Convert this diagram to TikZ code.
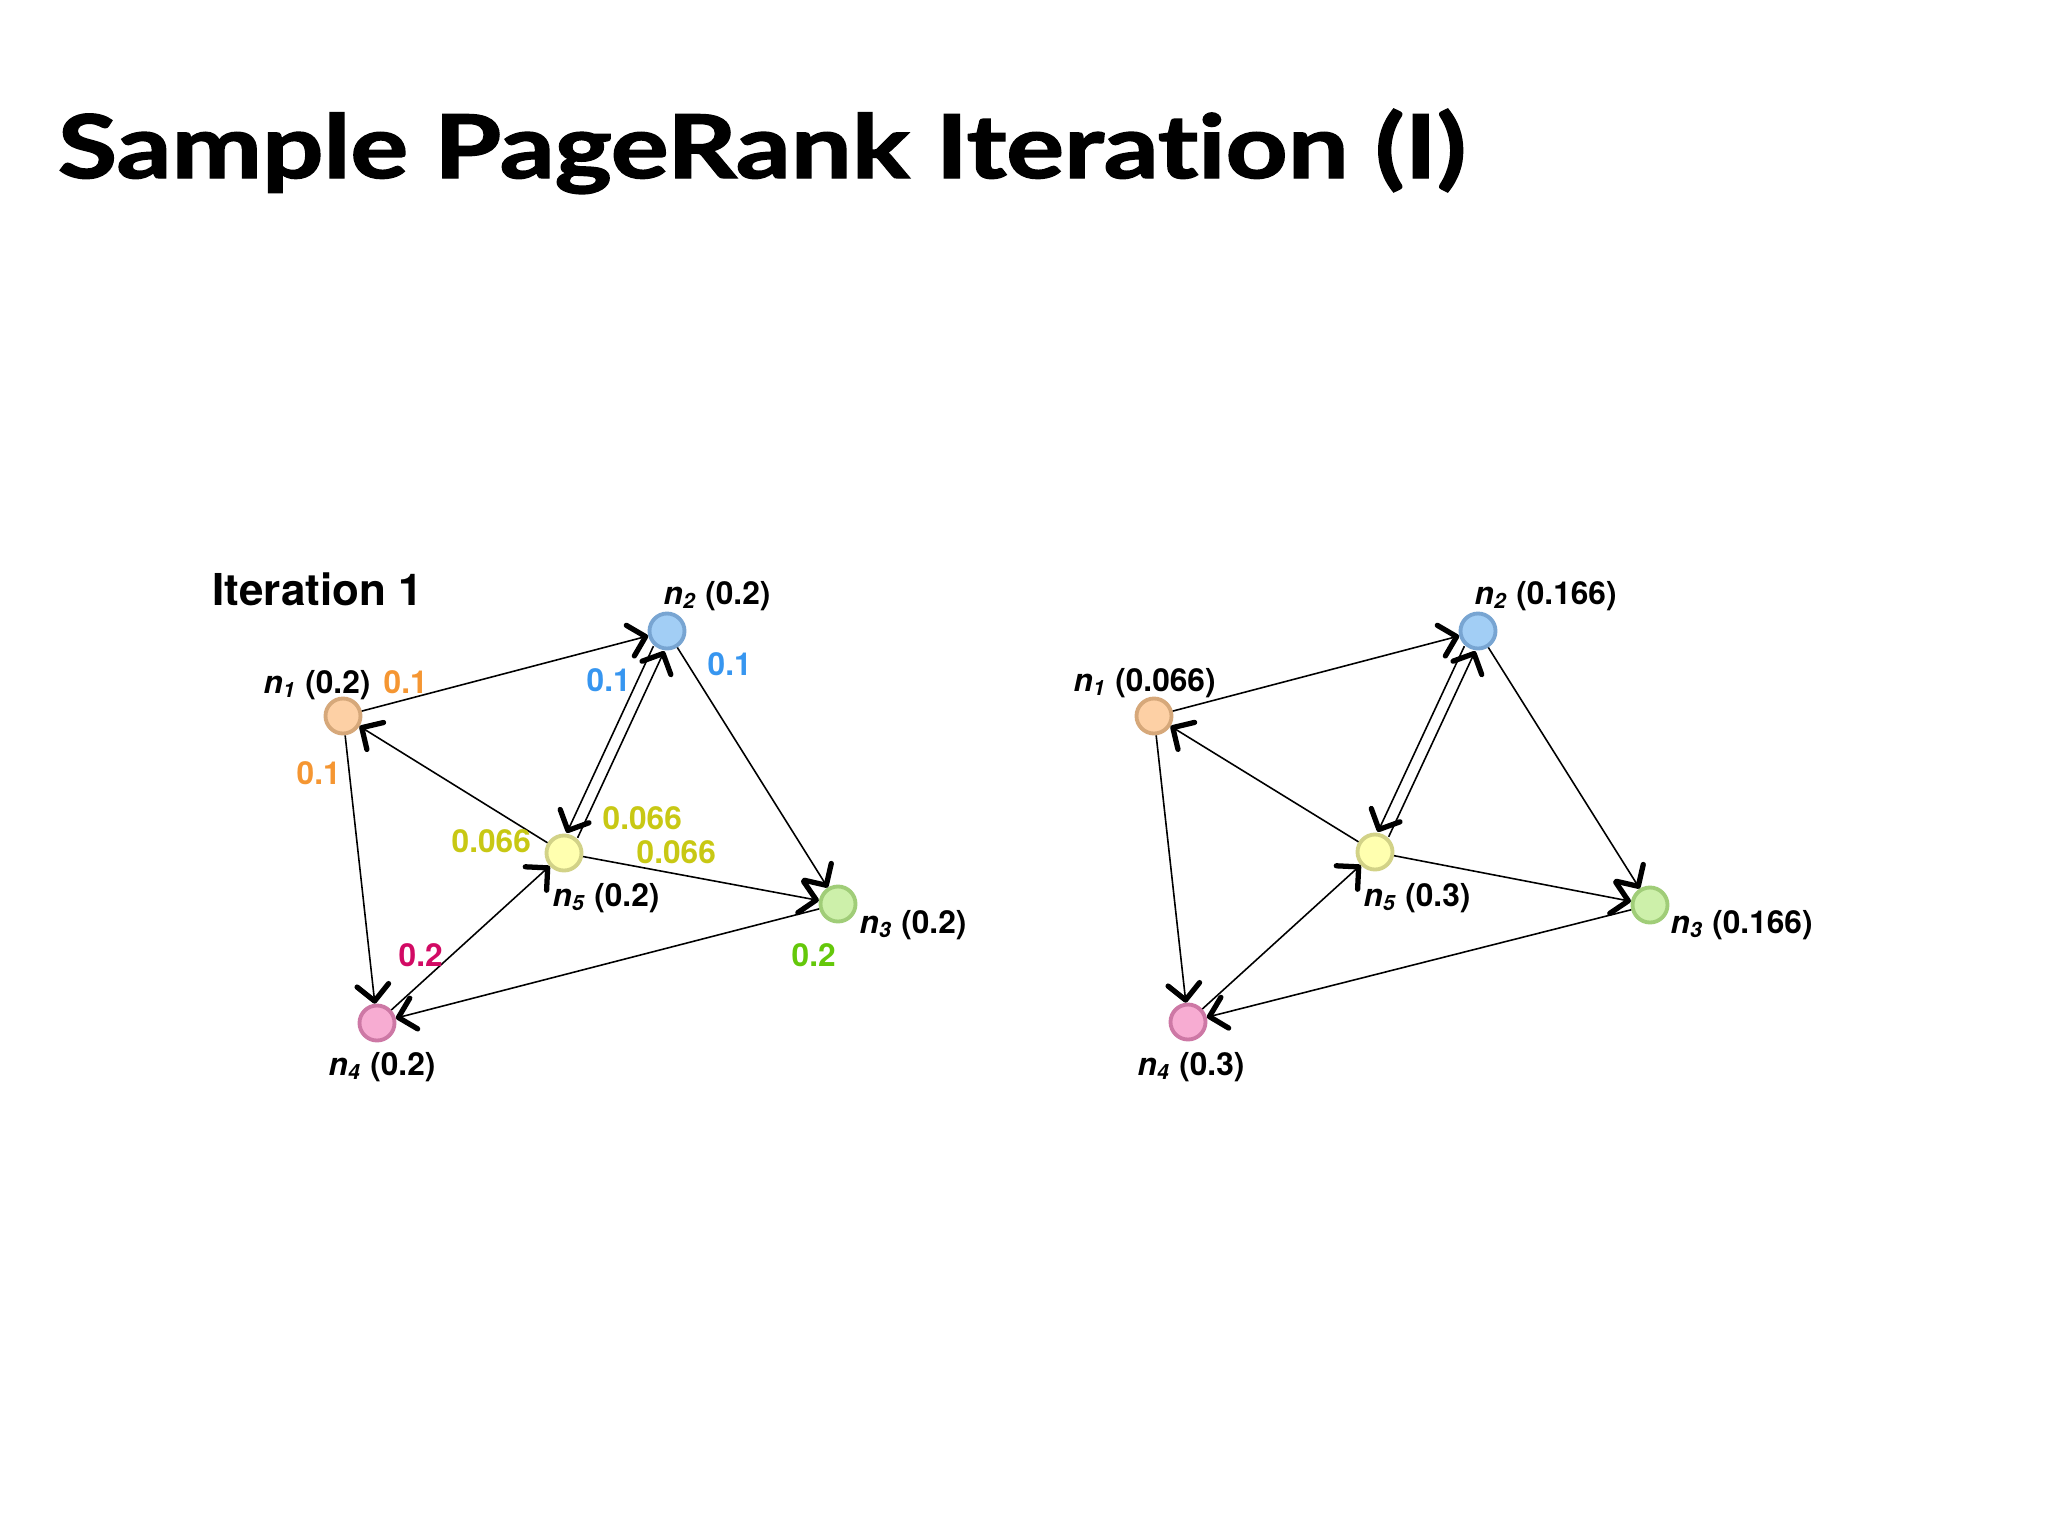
\documentclass[tikz,border=0pt]{standalone}
\usepackage{fontspec}
\setmainfont{TeX Gyre Heros}
\newfontfamily\titlefont{Lato}[Ligatures=NoCommon, BoldFeatures={FakeBold=1.6}]
\usetikzlibrary{arrows.meta, positioning}
\definecolor{peachfill}{RGB}{253, 208, 165}
\definecolor{peachline}{RGB}{214, 168, 122}
\definecolor{skyfill}{RGB}{162, 206, 245}
\definecolor{skyline}{RGB}{120, 165, 210}
\definecolor{limefill}{RGB}{205, 240, 170}
\definecolor{limeline}{RGB}{160, 205, 120}
\definecolor{rosefill}{RGB}{247, 172, 210}
\definecolor{roseline}{RGB}{205, 120, 165}
\definecolor{lemonfill}{RGB}{255, 255, 175}
\definecolor{lemonline}{RGB}{210, 210, 135}
\definecolor{orange1}{RGB}{245, 150, 50}
\definecolor{blue1}{RGB}{55, 150, 240}
\definecolor{olive1}{RGB}{200, 200, 20}
\definecolor{magenta1}{RGB}{210, 10, 100}
\definecolor{green1}{RGB}{100, 200, 10}
\newcommand\rk[2]{{\itshape n\textsubscript{#1}} (#2)}
\tikzset{
  pnode/.style={circle, draw, line width=1.1pt, minimum size=0.35cm, inner sep=0pt},
  p1node/.style={pnode, fill=peachfill, draw=peachline},
  p2node/.style={pnode, fill=skyfill, draw=skyline},
  p3node/.style={pnode, fill=limefill, draw=limeline},
  p4node/.style={pnode, fill=rosefill, draw=roseline},
  p5node/.style={pnode, fill=lemonfill, draw=lemonline},
  link/.style={-{Straight Barb[length=4.5pt, width=9pt, line width=1.5pt, round]}, line width=0.45pt},
  rank/.style={anchor=base west, inner sep=0pt, font=\fontsize{9}{10}\selectfont\bfseries},
  fwd/.style={transform canvas={shift={(-0.054cm,0.025cm)}}},
  back/.style={transform canvas={shift={(0.054cm,-0.025cm)}}},
}
\begin{document}
\begin{tikzpicture}[x=0.01cm, y=-0.01cm]
  \fill[white] (0,0) rectangle (2048,1536);
  \useasboundingbox (0,0) rectangle (2048,1536);
  \node[anchor=base west, inner sep=0pt, xscale=1.23, font=\titlefont\bfseries\fontsize{25}{30}\selectfont] (title) at (57,178) {Sample PageRank Iteration (I)};
  % iteration 1
  \node[anchor=base west, inner sep=0pt, font=\fontsize{12.5}{14}\selectfont\bfseries] (iter) at (212,605) {Iteration 1};
  \node[p1node] (a1) at (343,716) {};
  \node[p2node] (a2) at (667,631) {};
  \node[p3node] (a3) at (838,904) {};
  \node[p4node] (a4) at (377,1023) {};
  \node[p5node] (a5) at (564,853) {};
  \draw[link] (a1) -- (a2);
  \draw[link] (a5) -- (a1);
  \draw[link] (a1) -- (a4);
  \draw[link, fwd] (a2) -- (a5);
  \draw[link, back] (a5) -- (a2);
  \draw[link] (a2) -- (a3);
  \draw[link] (a5) -- (a3);
  \draw[link] (a3) -- (a4);
  \draw[link] (a4) -- (a5);
  \node[rank] (a1r) at (263,693) {\rk{1}{0.2}};
  \node[rank] (a2r) at (663,604) {\rk{2}{0.2}};
  \node[rank] (a3r) at (859,933) {\rk{3}{0.2}};
  \node[rank] (a4r) at (328,1075) {\rk{4}{0.2}};
  \node[rank] (a5r) at (552,906) {\rk{5}{0.2}};
  \node[rank, orange1] (a1s) at (383,693) {0.1};
  \node[rank, orange1] (a1t) at (296,784) {0.1};
  \node[rank, blue1] (a2s) at (586,691) {0.1};
  \node[rank, blue1] (a2t) at (707,675) {0.1};
  \node[rank, olive1] (a5s) at (451,852) {0.066};
  \node[rank, olive1] (a5t) at (602,829) {0.066};
  \node[rank, olive1] (a5u) at (636,863) {0.066};
  \node[rank, green1] (a3s) at (791,966) {0.2};
  \node[rank, magenta1] (a4s) at (398,966) {0.2};
  % after iteration 1
  \node[p1node] (b1) at (1154,716) {};
  \node[p2node] (b2) at (1478,631) {};
  \node[p3node] (b3) at (1650,905) {};
  \node[p4node] (b4) at (1188,1022) {};
  \node[p5node] (b5) at (1375,852) {};
  \draw[link] (b1) -- (b2);
  \draw[link] (b5) -- (b1);
  \draw[link] (b1) -- (b4);
  \draw[link, fwd] (b2) -- (b5);
  \draw[link, back] (b5) -- (b2);
  \draw[link] (b2) -- (b3);
  \draw[link] (b5) -- (b3);
  \draw[link] (b3) -- (b4);
  \draw[link] (b4) -- (b5);
  \node[rank] (b1r) at (1073,691) {\rk{1}{0.066}};
  \node[rank] (b2r) at (1474,604) {\rk{2}{0.166}};
  \node[rank] (b3r) at (1670,933) {\rk{3}{0.166}};
  \node[rank] (b4r) at (1137,1075) {\rk{4}{0.3}};
  \node[rank] (b5r) at (1363,906) {\rk{5}{0.3}};
\end{tikzpicture}
\end{document}
